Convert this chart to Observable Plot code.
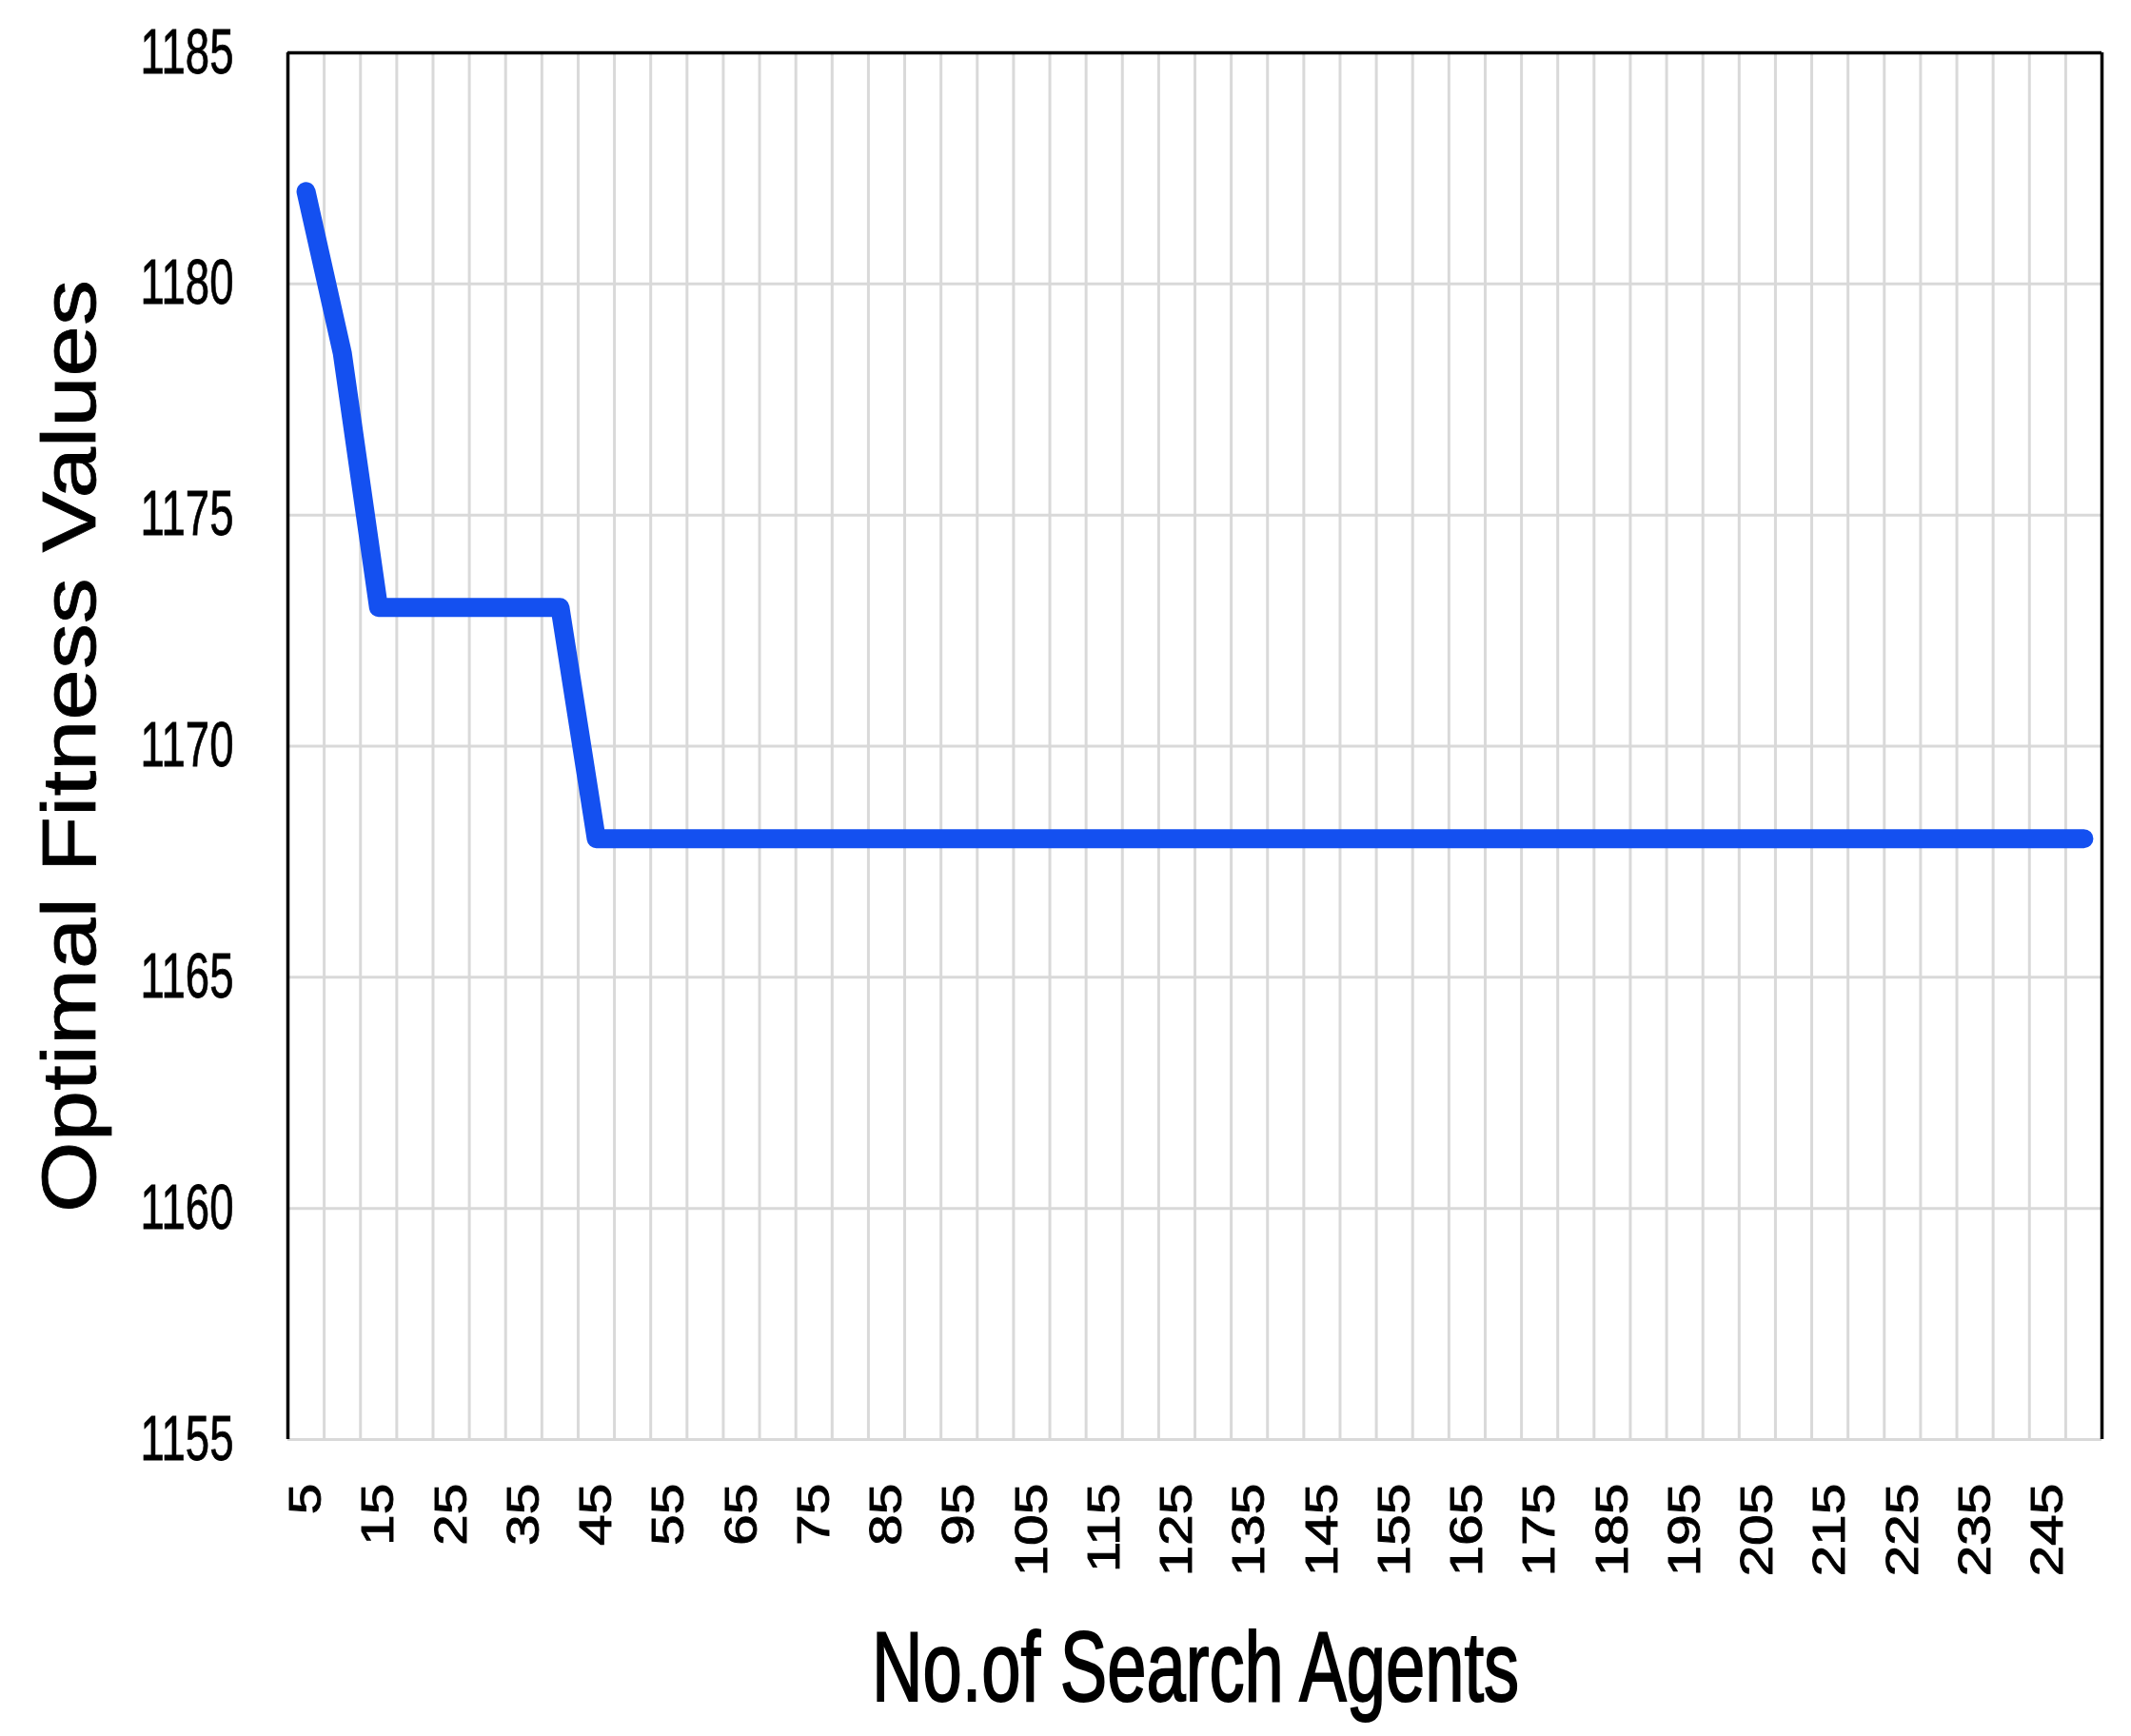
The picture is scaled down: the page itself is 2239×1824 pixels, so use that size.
<!DOCTYPE html>
<html>
<head>
<meta charset="utf-8">
<script src="https://cdn.jsdelivr.net/npm/d3@7"></script>
<script src="https://cdn.jsdelivr.net/npm/@observablehq/plot@0.6"></script>
<style>
  html, body { margin: 0; padding: 0; background: #fff; }
  svg { display: block; }
</style>
</head>
<body>
<div id="chart"></div>
<script>
// ---- data ----
const agents = [5, 10, 15, 20, 25, 30, 35, 40, 45, 50,
                55, 60, 65, 70, 75, 80, 85, 90, 95, 100,
                105, 110, 115, 120, 125, 130, 135, 140, 145, 150,
                155, 160, 165, 170, 175, 180, 185, 190, 195, 200,
                205, 210, 215, 220, 225, 230, 235, 240, 245, 250];
const fitness = [1182, 1178.5, 1173, 1173, 1173, 1173, 1173, 1173, 1168, 1168,
                 1168, 1168, 1168, 1168, 1168, 1168, 1168, 1168, 1168, 1168,
                 1168, 1168, 1168, 1168, 1168, 1168, 1168, 1168, 1168, 1168,
                 1168, 1168, 1168, 1168, 1168, 1168, 1168, 1168, 1168, 1168,
                 1168, 1168, 1168, 1168, 1168, 1168, 1168, 1168, 1168, 1168];
const xTickLabels = [5, 15, 25, 35, 45, 55, 65, 75, 85, 95, 105, 115, 125,
                     135, 145, 155, 165, 175, 185, 195, 205, 215, 225, 235, 245];
const yTicks = [1155, 1160, 1165, 1170, 1175, 1180, 1185];
const xTitle = "No.of Search Agents";
const yTitle = "Optimal Fitness Values";

// ---- table for Plot ----
const data = agents.map((a, i) => ({agents: a, fitness: fitness[i]}));
const step = agents[1] - agents[0];
const xDomain = [agents[0] - step / 2, agents[agents.length - 1] + step / 2];
const boundaries = agents.slice(0, -1).map(a => a + step / 2);

const FONT = "'Liberation Sans', Arial, Helvetica, sans-serif";
const W = 2239, H = 1824;

const svg = Plot.plot({
  width: W,
  height: H,
  marginLeft: 302,
  marginRight: 31,
  marginTop: 55,
  marginBottom: 312,
  style: {fontFamily: FONT, color: "#000", background: "#fff"},
  x: {type: "linear", domain: xDomain},
  y: {domain: [yTicks[0], yTicks[yTicks.length - 1]]},
  marks: [
    Plot.ruleX(boundaries, {stroke: "#d9d9d9", strokeWidth: 3}),
    Plot.ruleY(yTicks.slice(0, -1), {stroke: "#d9d9d9", strokeWidth: 3}),
    Plot.ruleX(xDomain, {stroke: "#000", strokeWidth: 3.5}),
    Plot.ruleY([yTicks[yTicks.length - 1]], {stroke: "#000", strokeWidth: 3.5}),
    Plot.axisY(yTicks, {tickSize: 0, tickPadding: 57, fontSize: 66,
                        tickFormat: d => String(d), label: null, fill: "#000"}),
    Plot.axisX(xTickLabels, {tickSize: 0, tickPadding: 46, fontSize: 49, tickRotate: -90,
                             tickFormat: d => String(d), label: null, fill: "#000"}),
    Plot.line(data, {x: "agents", y: "fitness", stroke: "#1450F0", strokeWidth: 20,
                     strokeLinecap: "round", strokeLinejoin: "round"})
  ]
});

// narrow / stretch tick labels like the reference's fonts, slightly heavier strokes
d3.select(svg).selectAll('g[aria-label="y-axis tick label"] text').each(function () {
  this.setAttribute("transform", (this.getAttribute("transform") || "") + " scale(0.69,1)");
  this.setAttribute("stroke", "#000");
  this.setAttribute("stroke-width", "0.8");
});
d3.select(svg).selectAll('g[aria-label="x-axis tick label"] text').each(function () {
  this.setAttribute("transform", (this.getAttribute("transform") || "") + " scale(1.2,1)");
  this.setAttribute("stroke", "#000");
  this.setAttribute("stroke-width", "0.9");
});

// axis titles
const s = d3.select(svg);
s.append("text")
  .attr("transform", "translate(100,784) rotate(-90) scale(1.2,1)")
  .attr("text-anchor", "middle")
  .attr("font-family", FONT)
  .attr("font-size", 80)
  .attr("fill", "#000")
  .attr("stroke", "#000")
  .attr("stroke-width", 0.8)
  .text(yTitle);
s.append("text")
  .attr("transform", "translate(1256,1787) scale(0.72,1)")
  .attr("text-anchor", "middle")
  .attr("font-family", FONT)
  .attr("font-size", 103)
  .attr("fill", "#000")
  .attr("stroke", "#000")
  .attr("stroke-width", 2)
  .text(xTitle);

document.getElementById("chart").appendChild(svg);
</script>
</body>
</html>
